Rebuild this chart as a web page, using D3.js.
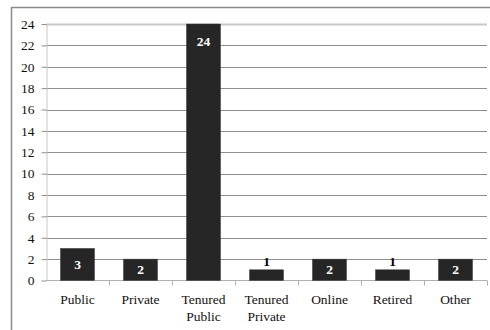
<!DOCTYPE html>
<html>
<head>
<meta charset="utf-8">
<script src="https://cdn.jsdelivr.net/npm/d3@7"></script>
<style>
  html, body { margin: 0; padding: 0; background: #fff; }
  svg { display: block; }
  svg text { font-family: "Liberation Serif", "Times New Roman", serif; }
</style>
</head>
<body>
<svg id="chart" width="490" height="330"></svg>
<script>
// Respondent counts by employment type
const categories = ["Public", "Private", "Tenured\nPublic", "Tenured\nPrivate", "Online", "Retired", "Other"];
const counts = [3, 2, 24, 1, 2, 1, 2];
const yTicks = [0, 2, 4, 6, 8, 10, 12, 14, 16, 18, 20, 22, 24];

const svg = d3.select("#chart");
const plotLeft = 46, plotRight = 487, plotTop = 24, plotBottom = 280.5;

// Frame around the chart
svg.append("rect")
  .attr("x", 11.5).attr("y", 7.5)
  .attr("width", 500).attr("height", 340)
  .attr("fill", "none").attr("stroke", "#8a8a8a").attr("stroke-width", 1.5);

const x = d3.scaleBand().domain(categories).range([plotLeft, plotRight]).paddingInner(0.46).paddingOuter(0.23);
const xOuter = d3.scaleBand().domain(categories).range([plotLeft, plotRight]);
const y = d3.scaleLinear().domain([0, 24]).range([plotBottom, plotTop]);

// Horizontal gridlines
svg.append("g").selectAll("line")
  .data(yTicks.filter(d => d > 0))
  .join("line")
  .attr("x1", plotLeft).attr("x2", plotRight)
  .attr("y1", d => Math.round(y(d)) + 0.5).attr("y2", d => Math.round(y(d)) + 0.5)
  .attr("stroke", d => d === 24 ? "#c8c8c8" : "#8e8e8e")
  .attr("stroke-width", d => d === 24 ? 2 : 1);

// Y axis
const yAxis = svg.append("g")
  .attr("transform", `translate(${plotLeft + 0.5},0)`)
  .call(d3.axisLeft(y).tickValues(yTicks).tickSize(5).tickPadding(7).tickSizeOuter(0));
yAxis.attr("font-family", null).attr("font-size", null);
yAxis.select(".domain").attr("stroke", "#c8c8c8");
yAxis.selectAll(".tick line").attr("stroke", "#8e8e8e");
yAxis.selectAll(".tick text").attr("font-size", 13.5).attr("fill", "#111");

// X axis line and category dividers
svg.append("line")
  .attr("x1", plotLeft).attr("x2", plotRight)
  .attr("y1", plotBottom).attr("y2", plotBottom)
  .attr("stroke", "#b0b0b0").attr("stroke-width", 1);
svg.append("g").selectAll("line")
  .data(categories.slice(1).concat(["__end"]))
  .join("line")
  .attr("x1", (d, i) => Math.round(i < categories.length - 1 ? xOuter(d) : plotRight) + 0.5)
  .attr("x2", (d, i) => Math.round(i < categories.length - 1 ? xOuter(d) : plotRight) + 0.5)
  .attr("y1", plotBottom).attr("y2", plotBottom + 5)
  .attr("stroke", "#b0b0b0");

// Bars
svg.append("g").selectAll("rect")
  .data(counts)
  .join("rect")
  .attr("x", (d, i) => x(categories[i]))
  .attr("width", x.bandwidth())
  .attr("y", d => y(d))
  .attr("height", d => y(0) - y(d))
  .attr("fill", "#262626")
  .attr("stroke", "#3a3a3a").attr("stroke-width", 0.5);

// Value labels
svg.append("g").selectAll("text")
  .data(counts)
  .join("text")
  .attr("x", (d, i) => x(categories[i]) + x.bandwidth() / 2)
  .attr("y", d => {
    const h = y(0) - y(d);
    if (h < 15) return y(d) - 4;
    return Math.min(y(d) + 17, y(d) + h / 2) + 4.5;
  })
  .attr("text-anchor", "middle")
  .attr("font-size", 13.5).attr("font-weight", "bold")
  .attr("fill", d => (y(0) - y(d)) < 15 ? "#000" : "#fff")
  .text(d => d);

// Category labels
const lbl = svg.append("g").selectAll("text")
  .data(categories)
  .join("text")
  .attr("x", d => xOuter(d) + xOuter.bandwidth() / 2)
  .attr("y", 303.5)
  .attr("text-anchor", "middle")
  .attr("font-size", 13.5).attr("fill", "#111");
lbl.selectAll("tspan")
  .data(d => d.split("\n"))
  .join("tspan")
  .attr("x", function() { return d3.select(this.parentNode).attr("x"); })
  .attr("dy", (d, i) => i === 0 ? 0 : 17)
  .text(d => d);
</script>
</body>
</html>
